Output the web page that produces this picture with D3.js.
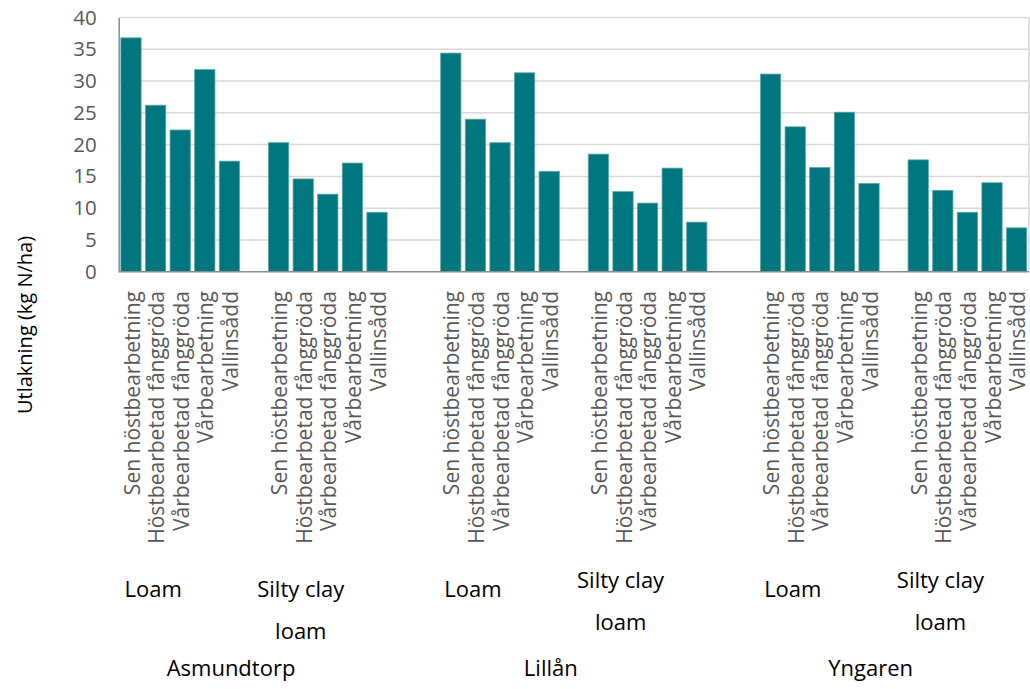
<!DOCTYPE html>
<html><head><meta charset="utf-8">
<script src="https://cdn.jsdelivr.net/npm/d3@7"></script>
<style>body{margin:0;background:#fff}svg{display:block}</style>
</head><body>
<svg id="c" width="1030" height="689"></svg>
<script>
const locations = ["Asmundtorp", "Lillån", "Yngaren"];
const soils = ["Loam", "Silty clay loam"];
const treatments = ["Sen höstbearbetning", "Höstbearbetad fånggröda", "Vårbearbetad fånggröda", "Vårbearbetning", "Vallinsådd"];
// values per location, per soil, per treatment
const asmundtorpLoam = [36.8, 26.2, 22.3, 31.8, 17.4];
const asmundtorpSilty = [20.3, 14.6, 12.2, 17.1, 9.35];
const lillanLoam = [34.4, 24.0, 20.3, 31.3, 15.8];
const lillanSilty = [18.5, 12.6, 10.8, 16.3, 7.8];
const yngarenLoam = [31.1, 22.8, 16.4, 25.1, 13.9];
const yngarenSilty = [17.6, 12.8, 9.35, 14.0, 6.9];
const yTicks = [0, 5, 10, 15, 20, 25, 30, 35, 40];
const values = [[asmundtorpLoam, asmundtorpSilty], [lillanLoam, lillanSilty], [yngarenLoam, yngarenSilty]];

(function () {
// build slot list: bars plus blank spacer slots (1 between soils, 2 between locations)
const slots = [];
const groups = [];
locations.forEach((loc, li) => {
  if (li > 0) { slots.push({blank: true, key: "b" + slots.length}); slots.push({blank: true, key: "b" + slots.length}); }
  soils.forEach((soil, si) => {
    if (si > 0) slots.push({blank: true, key: "b" + slots.length});
    const gStart = slots.length;
    treatments.forEach((t, ti) => {
      slots.push({key: loc + soil + t, loc, soil, t, v: values[li][si][ti]});
    });
    groups.push({loc, soil, li, si, start: slots[gStart].key, end: slots[slots.length - 1].key});
  });
});

const svg = d3.select("#c");
const font = "Open Sans, sans-serif";
const pLeft = 118.7, pRight = 1028.9, pTop = 17.5, pBottom = 271.7;
const x = d3.scaleBand().domain(slots.map(d => d.key)).range([pLeft, pRight]).paddingInner(0.175).paddingOuter(0.0875);
const y = d3.scaleLinear().domain([0, 40]).range([pBottom, pTop]);

// gridlines
svg.append("g").selectAll("line").data(yTicks.filter(d => d > 0)).join("line")
  .attr("x1", pLeft).attr("x2", pRight).attr("y1", d => y(d)).attr("y2", d => y(d))
  .attr("stroke", "#d9d9d9").attr("stroke-width", 1.5);
svg.append("line").attr("x1", pRight).attr("x2", pRight).attr("y1", pTop).attr("y2", pBottom)
  .attr("stroke", "#d9d9d9").attr("stroke-width", 1.5);

// y axis
const yAxis = svg.append("g").attr("transform", `translate(${pLeft},0)`)
  .call(d3.axisLeft(y).tickValues(yTicks).tickSize(0).tickPadding(22));
yAxis.select(".domain").attr("stroke", "#8c8c8c").attr("stroke-width", 1.5);
yAxis.selectAll("text").attr("font-family", font).attr("font-size", 20.5).attr("fill", "#595959");

// bars
svg.append("g").selectAll("rect").data(slots.filter(d => !d.blank)).join("rect")
  .attr("x", d => x(d.key)).attr("width", x.bandwidth())
  .attr("y", d => y(d.v)).attr("height", d => y(0) - y(d.v))
  .attr("fill", "#00767e").attr("stroke", "#5fa9ad").attr("stroke-width", 0.8);

// x axis line
svg.append("line").attr("x1", pLeft).attr("x2", pRight).attr("y1", y(0)).attr("y2", y(0))
  .attr("stroke", "#8c8c8c").attr("stroke-width", 1.5);

// rotated treatment labels
svg.append("g").selectAll("text").data(slots.filter(d => !d.blank)).join("text")
  .attr("transform", d => `translate(${x(d.key) + x.bandwidth() / 2 + 8.5},291) rotate(-90)`)
  .attr("text-anchor", "end")
  .attr("font-family", font).attr("font-size", 21).attr("fill", "#595959")
  .text(d => d.t);

// soil labels
const soilLines = {"Loam": ["Loam"], "Silty clay loam": ["Silty clay", "loam"]};
groups.forEach(g => {
  const cx = (x(g.start) + x(g.end) + x.bandwidth()) / 2 - 27;
  const lines = soilLines[g.soil];
  const base = lines.length === 1 || g.li === 0 ? 597 : 588;
  const t = svg.append("text").attr("text-anchor", "middle")
    .attr("font-family", font).attr("font-size", 22).attr("fill", "#000");
  lines.forEach((l, i) => {
    t.append("tspan").attr("x", cx).attr("y", base + i * 42).text(l);
  });
});

// location labels
locations.forEach((loc, li) => {
  const gs = groups.filter(g => g.li === li);
  const cx = (x(gs[0].start) + x(gs[gs.length - 1].end) + x.bandwidth()) / 2 - 23;
  svg.append("text").attr("x", cx).attr("y", 676).attr("text-anchor", "middle")
    .attr("font-family", font).attr("font-size", 22).attr("fill", "#000").text(loc);
});

// y title
svg.append("text").attr("transform", "translate(32,325) rotate(-90)").attr("text-anchor", "middle")
  .attr("font-family", font).attr("font-size", 20).attr("fill", "#000")
  .text("Utlakning (kg N/ha)");
})();
</script>
</body></html>
